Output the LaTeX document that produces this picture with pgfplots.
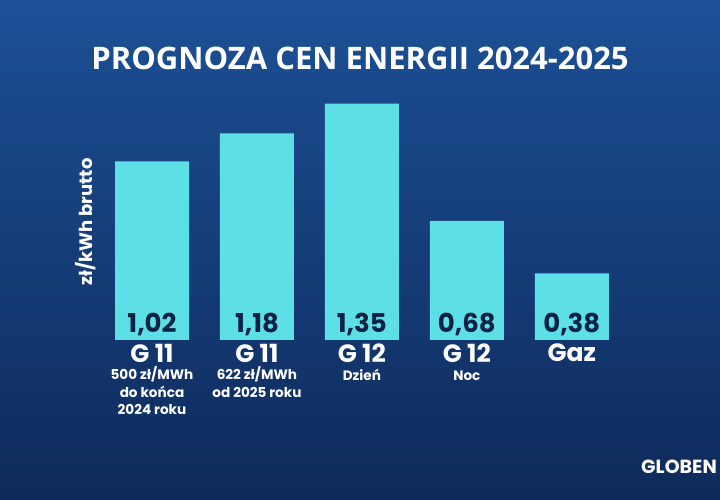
\documentclass[border=0pt]{standalone}
\usepackage{pgfplots}
\pgfplotsset{compat=1.18}
\usepackage{fontspec}
\setmainfont{Poppins}
\newfontfamily\titlefont{Open Sans}
\definecolor{bgtop}{HTML}{1C5096}
\definecolor{bgbot}{HTML}{0E2A5A}
\definecolor{barc}{HTML}{5DDFE6}
\definecolor{navy}{HTML}{0B2245}
\begin{document}
\begin{tikzpicture}[x=1pt,y=1pt]
\useasboundingbox (0,0) rectangle (720,500);
\fill[top color=bgtop, bottom color=bgbot] (0,0) rectangle (720,500);
\begin{axis}[
  at={(152pt,160pt)}, anchor=origin,
  scale only axis, width=524.75pt, height=262.5pt,
  xmin=-0.5, xmax=4.5, ymin=0, ymax=1.5,
  axis line style={draw=none},
  ytick=\empty,
  xtick={0,1,2,3,4},
  major tick length=0pt,
  xticklabel style={anchor=north, align=center, text=white, inner sep=0pt, yshift=-4pt,
    font=\fontsize{13.6}{17.5}\selectfont\bfseries},
  xticklabels={
    {{\fontsize{25}{25}\selectfont G 11}\\500 zł/MWh\\do końca\\2024 roku},
    {{\fontsize{25}{25}\selectfont G 11}\\622 zł/MWh\\od 2025 roku},
    {{\fontsize{25}{25}\selectfont G 12}\\Dzień},
    {{\fontsize{25}{25}\selectfont G 12}\\Noc},
    {{\fontsize{25}{25}\selectfont Gaz}}
  },
  clip=false,
]
\addplot[ybar, bar width=74pt, fill=barc, draw=none] coordinates {
  (0,1.02) (1,1.18) (2,1.35) (3,0.68) (4,0.38)};
\addplot[draw=none, mark=none, nodes near coords, point meta=\thisrow{v},
  nodes near coords style={anchor=base, yshift=7pt, inner sep=0pt, text=navy,
    font=\fontsize{26}{26}\selectfont\bfseries,
    /pgf/number format/.cd, fixed, fixed zerofill, precision=2, use comma, assume math mode=true}]
  table {
x y v
0 0 1.02
1 0 1.18
2 0 1.35
3 0 0.68
4 0 0.38
};
\end{axis}
\node[text=white, font=\titlefont\fontsize{31}{31}\selectfont\bfseries, anchor=base] at (360,430) {PROGNOZA CEN ENERGII 2024-2025};
\node[text=white, rotate=90, font=\fontsize{18}{18}\selectfont\bfseries] at (86,278) {zł/kWh brutto};
\node[text=white, font=\fontsize{19}{19}\selectfont\bfseries, anchor=base east, inner sep=0pt] at (717,26) {GLOBEN};
\end{tikzpicture}
\end{document}
